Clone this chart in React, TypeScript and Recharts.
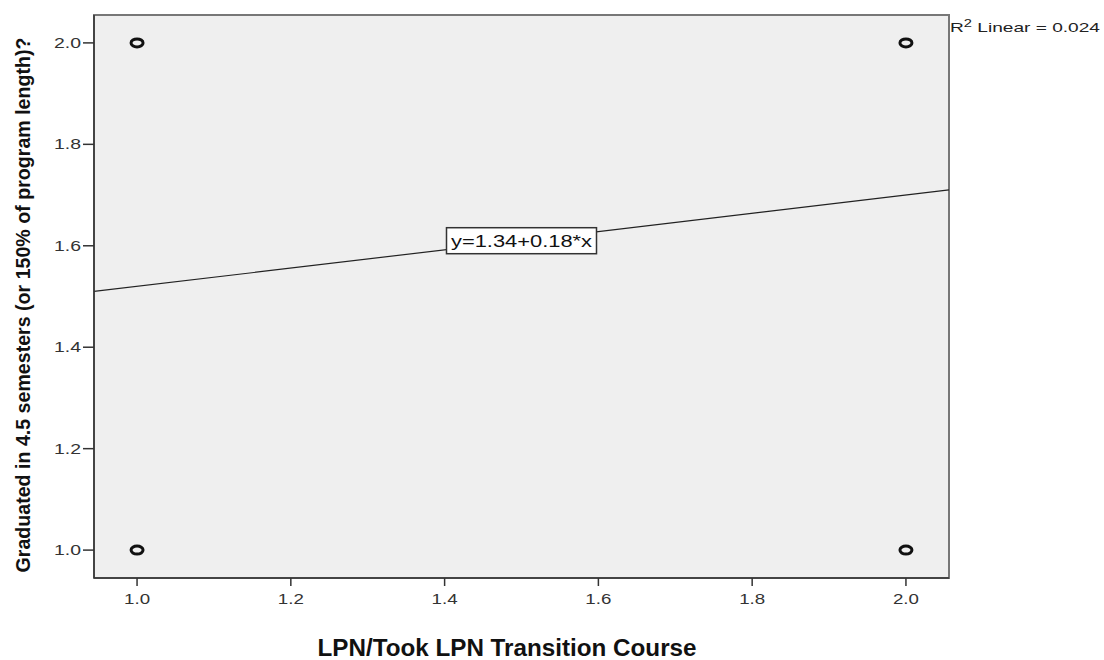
import {
  ScatterChart,
  Scatter,
  XAxis,
  YAxis,
  ReferenceArea,
  ReferenceLine,
  ReferenceDot,
  Customized,
} from "recharts";

// observed points (LPN course vs graduated on time) - coded 1/2
const lpnValues = [1, 1, 2, 2];
const gradValues = [1, 2, 1, 2];

const X_TICKS = [1.0, 1.2, 1.4, 1.6, 1.8, 2.0];
const Y_TICKS = [1.0, 1.2, 1.4, 1.6, 1.8, 2.0];
const X_DOMAIN = [0.944, 2.056];
const Y_DOMAIN = [0.945, 2.055];

// fit line from SPSS
const INTERCEPT = 1.34;
const SLOPE = 0.18;
const R2 = 0.024;
const FIT_LABEL = "y=1.34+0.18*x";
const FIT_LABEL_X = 1.5;

const X_TITLE = "LPN/Took LPN Transition Course";
const Y_TITLE = "Graduated in 4.5 semesters (or 150% of program length)?";

const points = lpnValues.map((x, i) => ({ x, y: gradValues[i] }));

const FONT = "'Liberation Sans', Arial, sans-serif";

// the original export is stretched sideways, so text is widened with textLength
function XTick(props: { x?: number; y?: number; payload?: { value: number } }) {
  const { x = 0, y = 0, payload } = props;
  return (
    <text x={x} y={y + 16} textAnchor="middle" fontSize={14} fill="#333" fontFamily={FONT}
      textLength={26} lengthAdjust="spacingAndGlyphs">
      {payload ? payload.value.toFixed(1) : ""}
    </text>
  );
}

function YTick(props: { x?: number; y?: number; payload?: { value: number } }) {
  const { x = 0, y = 0, payload } = props;
  return (
    <text x={x} y={y + 5} textAnchor="end" fontSize={14} fill="#333" fontFamily={FONT}
      textLength={27} lengthAdjust="spacingAndGlyphs">
      {payload ? payload.value.toFixed(1) : ""}
    </text>
  );
}

function OpenCircle(props: { cx?: number; cy?: number }) {
  const { cx, cy } = props;
  if (cx == null || cy == null) return <g />;
  return <ellipse cx={cx} cy={cy} rx={6} ry={4} fill="none" stroke="#111" strokeWidth={3} />;
}

function FitBox(props: { cx?: number; cy?: number }) {
  const { cx = 0, cy = 0 } = props;
  const w = 150;
  const h = 26;
  return (
    <g>
      <rect x={cx - w / 2} y={cy - h / 2} width={w} height={h} fill="#fff" stroke="#333" strokeWidth={1.5} />
      <text x={cx} y={cy + 6} textAnchor="middle" fontSize={16} fontFamily={FONT} fill="#111"
        textLength={141} lengthAdjust="spacingAndGlyphs">
        {FIT_LABEL}
      </text>
    </g>
  );
}

function Titles() {
  return (
    <g fontFamily={FONT}>
      <text x={950} y={32} fontSize={13} fill="#222" textLength={150} lengthAdjust="spacingAndGlyphs">
        R<tspan dy={-5} fontSize={10}>2</tspan>
        <tspan dy={5}>{` Linear = ${R2.toFixed(3)}`}</tspan>
      </text>
      <text
        x={30}
        y={305}
        transform="rotate(-90 30 305)"
        textAnchor="middle"
        fontSize={20}
        fontWeight="bold"
        fill="#111"
        textLength={535}
        lengthAdjust="spacingAndGlyphs"
      >
        {Y_TITLE}
      </text>
      <text x={507} y={656} textAnchor="middle" fontSize={23} fontWeight="bold" fill="#111"
        textLength={379} lengthAdjust="spacingAndGlyphs">
        {X_TITLE}
      </text>
    </g>
  );
}

export default function App() {
  const fitStart = { x: X_DOMAIN[0], y: INTERCEPT + SLOPE * X_DOMAIN[0] };
  const fitEnd = { x: X_DOMAIN[1], y: INTERCEPT + SLOPE * X_DOMAIN[1] };

  return (
    <div style={{ position: "absolute", left: 0, top: 0, background: "#fff" }}>
      <ScatterChart width={1104} height={660} margin={{ top: 15, right: 155, bottom: 52, left: 0 }}>
        <ReferenceArea
          x1={X_DOMAIN[0]}
          x2={X_DOMAIN[1]}
          y1={Y_DOMAIN[0]}
          y2={Y_DOMAIN[1]}
          fill="#efefef"
          fillOpacity={1}
          stroke="#777"
          strokeWidth={2}
        />
        <XAxis
          type="number"
          dataKey="x"
          domain={X_DOMAIN}
          ticks={X_TICKS}
          height={30}
          tickSize={8}
          tick={<XTick />}
          stroke="#333"
          strokeWidth={1.5}
          allowDataOverflow
        />
        <YAxis
          type="number"
          dataKey="y"
          domain={Y_DOMAIN}
          ticks={Y_TICKS}
          width={94}
          tickSize={11}
          tick={<YTick />}
          stroke="#333"
          strokeWidth={1.5}
          allowDataOverflow
        />
        <ReferenceLine segment={[fitStart, fitEnd]} stroke="#222" strokeWidth={1.2} ifOverflow="visible" />
        <Scatter data={points} shape={<OpenCircle />} isAnimationActive={false} />
        <ReferenceDot
          x={FIT_LABEL_X}
          y={INTERCEPT + SLOPE * FIT_LABEL_X}
          shape={<FitBox />}
          ifOverflow="visible"
        />
        <Customized component={<Titles />} />
      </ScatterChart>
    </div>
  );
}
